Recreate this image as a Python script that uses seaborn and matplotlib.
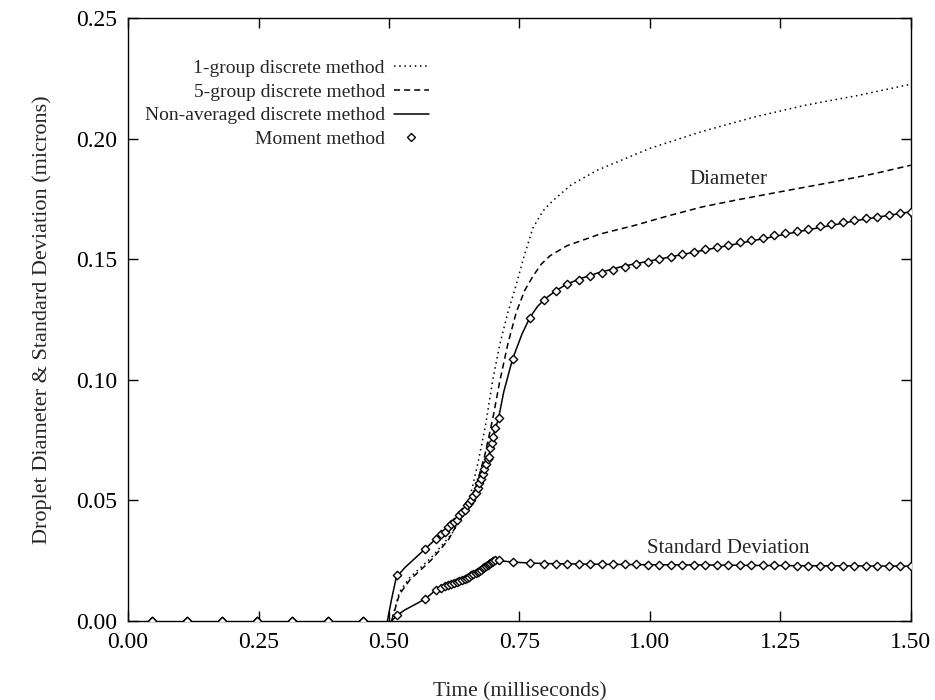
import matplotlib
matplotlib.use("Agg")
import matplotlib.pyplot as plt
import seaborn as sns
import pandas as pd
from matplotlib.lines import Line2D

# ---------------- data ----------------
# Moment method sample times (ms)
moment_t = [0.045, 0.112, 0.180, 0.247, 0.315, 0.383, 0.450,
            0.516, 0.570, 0.590, 0.600, 0.607, 0.613, 0.619, 0.625, 0.630, 0.635,
            0.640, 0.645, 0.650, 0.654, 0.658, 0.662, 0.666, 0.670, 0.673, 0.676,
            0.680, 0.683, 0.686, 0.689, 0.691, 0.694, 0.697, 0.699, 0.704, 0.710,
            0.737, 0.770, 0.797, 0.820, 0.842, 0.864,
            0.886, 0.908, 0.930, 0.952, 0.974, 0.996, 1.018, 1.040, 1.062, 1.084,
            1.106, 1.128, 1.150, 1.172, 1.194, 1.216, 1.238, 1.260, 1.282, 1.304,
            1.326, 1.348, 1.370, 1.392, 1.414, 1.436, 1.458, 1.480, 1.500]
moment_diam = [0.0, 0.0, 0.0, 0.0, 0.0, 0.0, 0.0,
               0.0190, 0.0300, 0.0340, 0.0360, 0.0370, 0.0390, 0.0400, 0.0410, 0.0420, 0.0440,
               0.0450, 0.0460, 0.0480, 0.0490, 0.0500, 0.0520, 0.0530, 0.0550, 0.0570, 0.0590,
               0.0610, 0.0630, 0.0650, 0.0670, 0.0680, 0.0716, 0.0740, 0.0762, 0.0800, 0.0840,
               0.1087, 0.1258, 0.1332, 0.1370, 0.1398, 0.1416,
               0.1430, 0.1443, 0.1455, 0.1467, 0.1479, 0.1490, 0.1500, 0.1511, 0.1521, 0.1531,
               0.1541, 0.1551, 0.1561, 0.1571, 0.1581, 0.1590, 0.1600, 0.1609, 0.1618, 0.1627,
               0.1636, 0.1645, 0.1654, 0.1662, 0.1670, 0.1677, 0.1684, 0.1691, 0.1697]
moment_std = [0.0, 0.0, 0.0, 0.0, 0.0, 0.0, 0.0,
              0.0024, 0.0092, 0.0128, 0.0138, 0.0143, 0.0148, 0.0152, 0.0157, 0.0161, 0.0166,
              0.0170, 0.0175, 0.0180, 0.0184, 0.0189, 0.0193, 0.0198, 0.0203, 0.0207, 0.0212,
              0.0218, 0.0223, 0.0228, 0.0233, 0.0237, 0.0242, 0.0246, 0.0249, 0.0252, 0.0251,
              0.0244, 0.0240, 0.0238, 0.0237, 0.0237, 0.0236,
              0.0236, 0.0235, 0.0235, 0.0234, 0.0234, 0.0233, 0.0233, 0.0233, 0.0232, 0.0232,
              0.0232, 0.0231, 0.0231, 0.0231, 0.0230, 0.0230, 0.0230, 0.0230, 0.0229, 0.0229,
              0.0229, 0.0229, 0.0228, 0.0228, 0.0228, 0.0228, 0.0228, 0.0227, 0.0227]

# Non-averaged discrete method (solid): diameter
nonavg_diam_t = [0.497, 0.505, 0.514, 0.530, 0.550, 0.570, 0.590, 0.610, 0.630, 0.650,
                 0.670, 0.680, 0.690, 0.700, 0.710, 0.720, 0.737, 0.755, 0.770, 0.785,
                 0.800, 0.820, 0.842, 0.870, 0.900, 0.950, 1.000, 1.100, 1.200, 1.300,
                 1.400, 1.500]
nonavg_diam = [0.000, 0.009, 0.018, 0.022, 0.026, 0.030, 0.034, 0.0385, 0.042, 0.048,
               0.055, 0.061, 0.0672, 0.077, 0.084, 0.095, 0.1087, 0.1190, 0.1258, 0.1305,
               0.1337, 0.1370, 0.1398, 0.1422, 0.1443, 0.1472, 0.1493, 0.1536, 0.1578, 0.1621,
               0.1662, 0.1697]
# Non-averaged discrete method (solid): standard deviation
nonavg_std_t = [0.505, 0.516, 0.530, 0.550, 0.570, 0.590, 0.610, 0.630, 0.650, 0.670,
                0.685, 0.695, 0.704, 0.715, 0.737, 0.770, 0.800, 0.900, 1.000, 1.100,
                1.200, 1.300, 1.400, 1.500]
nonavg_std = [0.000, 0.0024, 0.0045, 0.0068, 0.0092, 0.0128, 0.0146, 0.0161, 0.0180, 0.0203,
              0.0226, 0.0244, 0.0252, 0.0249, 0.0244, 0.0240, 0.0238, 0.0235, 0.0233, 0.0232,
              0.0230, 0.0229, 0.0228, 0.0227]

# 1-group discrete method (dotted): diameter
g1_t = [0.505, 0.520, 0.540, 0.560, 0.580, 0.600, 0.620, 0.640, 0.655, 0.670,
        0.685, 0.699, 0.712, 0.728, 0.744, 0.760, 0.776, 0.795, 0.815, 0.850,
        0.900, 1.000, 1.100, 1.200, 1.300, 1.400, 1.500]
g1_diam = [0.000, 0.012, 0.018, 0.022, 0.026, 0.031, 0.036, 0.043, 0.051, 0.065,
           0.081, 0.100, 0.1144, 0.128, 0.1395, 0.152, 0.163, 0.170, 0.1745, 0.181,
           0.187, 0.196, 0.203, 0.209, 0.214, 0.218, 0.2226]

# 5-group discrete method (dashed): diameter
g5_t = [0.505, 0.520, 0.540, 0.560, 0.580, 0.600, 0.615, 0.630, 0.650, 0.667,
        0.683, 0.700, 0.712, 0.728, 0.744, 0.760, 0.776, 0.792, 0.809, 0.841,
        0.905, 0.970, 1.035, 1.100, 1.164, 1.250, 1.350, 1.430, 1.500]
g5_diam = [0.000, 0.011, 0.017, 0.021, 0.025, 0.030, 0.034, 0.040, 0.047, 0.056,
           0.068, 0.085, 0.099, 0.115, 0.128, 0.137, 0.143, 0.148, 0.1515, 0.1556,
           0.1605, 0.164, 0.168, 0.1717, 0.1745, 0.178, 0.182, 0.1855, 0.189]

x_ticks = [0.00, 0.25, 0.50, 0.75, 1.00, 1.25, 1.50]
y_ticks = [0.00, 0.05, 0.10, 0.15, 0.20, 0.25]
legend_labels = ["1-group discrete method", "5-group discrete method",
                 "Non-averaged discrete method", "Moment method"]

# ---------------- style ----------------
sns.set_style("ticks")
plt.rcParams["font.family"] = ["Liberation Serif", "DejaVu Serif"]
FS_TICK = 17
FS_LAB = 15.5
FS_LEG = 14
FS_TXT = 15
DOT = (0, (1.0, 2.4))
DASH = (0, (4.0, 2.6))

fig = plt.figure(figsize=(9.35, 7.0), dpi=100)
ax = fig.add_axes([0.137, 0.113, 0.837, 0.861])

common = dict(ax=ax, sort=False, estimator=None, color="black", legend=False)
sns.lineplot(x=g1_t, y=g1_diam, linestyle=DOT, lw=1.1, **common)
sns.lineplot(x=g5_t, y=g5_diam, linestyle=DASH, lw=1.1, **common)
sns.lineplot(x=nonavg_diam_t, y=nonavg_diam, linestyle="-", lw=1.1, **common)
sns.lineplot(x=nonavg_std_t, y=nonavg_std, linestyle="-", lw=1.1, **common)

mdf = pd.DataFrame({"t": moment_t + moment_t,
                    "v": moment_diam + moment_std})
sns.scatterplot(data=mdf, x="t", y="v", marker="D", s=18, facecolor="white",
                edgecolor="black", linewidth=1.0, ax=ax, zorder=3, legend=False,
                clip_on=True)

ax.set_xlim(0, 1.5)
ax.set_ylim(0, 0.25)
ax.set_xticks(x_ticks)
ax.set_yticks(y_ticks)
ax.set_xticklabels([f"{v:.2f}" for v in x_ticks])
ax.set_yticklabels([f"{v:.2f}" for v in y_ticks])
ax.tick_params(direction="in", top=True, right=True, length=7, width=1,
               labelsize=FS_TICK, pad=8, colors="black")
for sp in ax.spines.values():
    sp.set_linewidth(1.0)
    sp.set_color("black")

ax.set_xlabel("Time (milliseconds)", fontsize=FS_LAB, labelpad=21)
ax.set_ylabel("Droplet Diameter & Standard Deviation (microns)", fontsize=16,
              labelpad=17)

ax.text(1.15, 0.183, "Diameter", ha="center", va="center", fontsize=FS_TXT)
ax.text(1.15, 0.030, "Standard Deviation", ha="center", va="center", fontsize=FS_TXT)

handles = [Line2D([], [], color="black", lw=1.1, linestyle=DOT),
           Line2D([], [], color="black", lw=1.1, linestyle=DASH),
           Line2D([], [], color="black", lw=1.1, linestyle="-"),
           Line2D([], [], color="black", linestyle="none", marker="D", ms=4,
                  mfc="white", mec="black", mew=1.0)]
ax.legend(handles, legend_labels, loc="upper right", bbox_to_anchor=(0.384, 0.932),
          frameon=False, markerfirst=False, fontsize=FS_LEG, handlelength=1.8,
          labelspacing=0.32, borderaxespad=0, handletextpad=0.45, borderpad=0)

fig.savefig("out.png", dpi=100)
